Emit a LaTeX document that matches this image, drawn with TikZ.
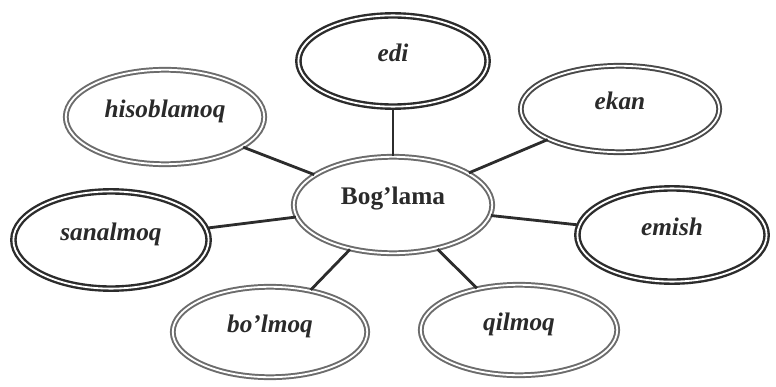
\documentclass[tikz,border=0pt]{standalone}
\usepackage{fontspec}
\setmainfont{Liberation Serif}
\usepackage{tikz}
\usetikzlibrary{shapes.geometric}
\definecolor{ink}{HTML}{2A2A2A}
\definecolor{ringdark}{HTML}{2C2C2C}
\definecolor{ringmid}{HTML}{4A4A4A}
\definecolor{ringlight}{HTML}{6C6C6C}
\tikzset{
  ring/.style={ellipse, draw=ringdark, line width=1.7pt, double=white, double distance=1.3pt, inner sep=0pt, text height=10pt, text depth=9pt, text=ink, font=\fontsize{18}{20}\selectfont\bfseries\itshape},
  ringlt/.style={ring, draw=ringlight, line width=1.4pt},
  ringmd/.style={ring, draw=ringmid, line width=1.4pt},
  link/.style={line width=2pt, draw=ringdark},
}
\begin{document}
\begin{tikzpicture}[x=0.025cm, y=-0.025cm]
  \useasboundingbox (0,0) rectangle (776,387);
  \node[ringlt, minimum width=4.96cm, minimum height=2.41cm, font=\fontsize{18}{20}\selectfont\bfseries, text depth=11pt](bog) at (393,205) {Bog’lama};
  \node[ring, minimum width=4.73cm, minimum height=2.28cm](edi) at (393,61) {edi};
  \node[ringmd, minimum width=4.96cm, minimum height=2.16cm](ekan) at (620,109) {ekan};
  \node[ringlt, minimum width=4.96cm, minimum height=2.36cm](hiso) at (165,117) {hisoblamoq};
  \node[ring, minimum width=4.88cm, minimum height=2.43cm](sanal) at (111,240) {sanalmoq};
  \node[ring, minimum width=4.73cm, minimum height=2.33cm](emish) at (672,235) {emish};
  \node[ringlt, minimum width=4.86cm, minimum height=2.26cm](bolmoq) at (270,332) {bo’lmoq};
  \node[ringlt, minimum width=4.91cm, minimum height=2.26cm](qilmoq) at (519,330) {qilmoq};
  \foreach \n in {edi,ekan,hiso,sanal,emish,bolmoq,qilmoq}{\draw[link](bog)--(\n);}
\end{tikzpicture}
\end{document}
